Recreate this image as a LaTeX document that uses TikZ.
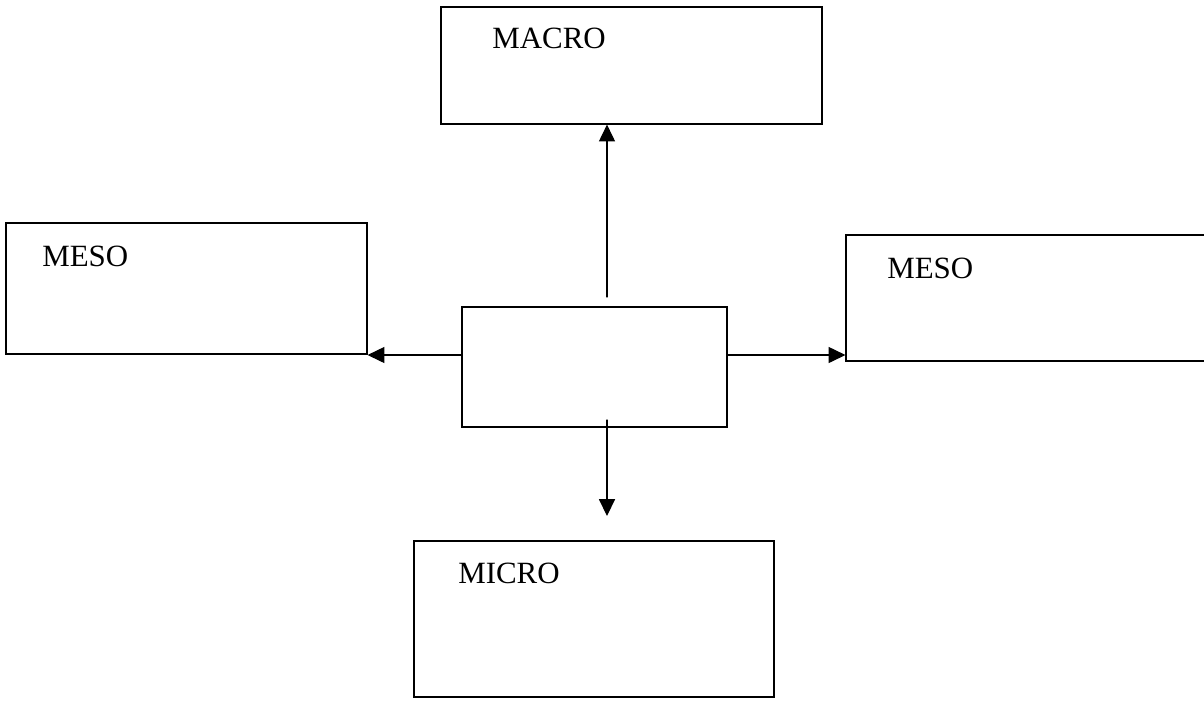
\documentclass[tikz,border=0pt]{standalone}
\usepackage{fontspec}
\setmainfont{Liberation Serif}
\usepackage{tikz}
\usetikzlibrary{arrows.meta, calc, fit, positioning}

\begin{document}
\begin{tikzpicture}[x=0.025cm, y=-0.025cm, style={line cap = round},
    box/.style={draw, line width=0.8pt, inner sep=0pt, rectangle},
    tag/.style={anchor=base west, inner sep=0pt, font=\fontsize{22}{26}\selectfont},
    arr/.style={line width=0.8pt, -{Triangle[length=0.42cm, width=0.4cm]}}]
  \useasboundingbox (0, 0) rectangle (1204, 700);

  % boxes
  \node[box, fit={(441, 7) (822, 124)}] (macro) {};
  \node[box, fit={(6, 223) (367, 354)}] (mesoL) {};
  \node[box, fit={(846, 235) (1210, 361)}] (mesoR) {};
  \node[box, fit={(462, 307) (727, 427)}] (hub) {};
  \node[box, fit={(414, 541) (774, 697)}] (micro) {};

  \node[tag] (macrotxt) at (492, 48) {MACRO};
  \node[tag] (mesoLtxt) at (42, 266) {MESO};
  \node[tag] (mesoRtxt) at (887, 278) {MESO};
  \node[tag] (microtxt) at (458, 583) {MICRO};

  % arrows
  \coordinate (upstart) at (607, 297);
  \coordinate (midline) at (607, 355);
  \coordinate (downstart) at (607, 420);
  \coordinate (downend) at (607, 516);

  \draw[arr] (upstart) -- (upstart |- macro.south);
  \draw[arr] (hub.west |- midline) -- (mesoL.east |- midline);
  \draw[arr] (hub.east |- midline) -- (mesoR.west |- midline);
  \draw[arr] (downstart) -- (downend);
\end{tikzpicture}
\end{document}
